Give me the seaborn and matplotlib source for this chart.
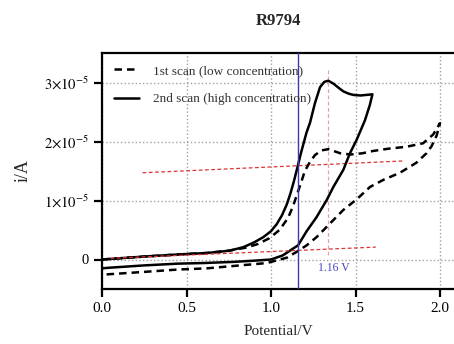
import numpy as np
import pandas as pd
import matplotlib
matplotlib.use("Agg")
import matplotlib.pyplot as plt
import seaborn as sns

# ------------------------
# Data (current in units of 1e-5 A)
# ------------------------
scan1_x = [0.0, 0.25, 0.45, 0.62, 0.75, 0.85, 0.92, 0.99, 1.05, 1.10, 1.13, 1.156, 1.18, 1.20,
           1.23, 1.26, 1.30, 1.34, 1.41, 1.47, 1.54, 1.605, 1.70, 1.80, 1.90, 1.96, 2.0,
           1.98, 1.95, 1.92, 1.86, 1.763, 1.665, 1.586, 1.507, 1.428, 1.349, 1.27, 1.211,
           1.152, 1.093, 0.975, 0.777, 0.62, 0.45, 0.25, 0.04, 0.0]
scan1_y = [0.0, 0.05, 0.085, 0.11, 0.15, 0.20, 0.26, 0.36, 0.50, 0.70, 0.90, 1.12, 1.32, 1.50,
           1.65, 1.77, 1.85, 1.87, 1.80, 1.78, 1.80, 1.84, 1.88, 1.91, 1.97, 2.12, 2.31,
           2.10, 1.92, 1.80, 1.64, 1.47, 1.35, 1.23, 1.02, 0.84, 0.61, 0.38, 0.24,
           0.13, 0.03, -0.06, -0.11, -0.15, -0.17, -0.21, -0.25, -0.26]

scan2_x = [0.0, 0.25, 0.45, 0.62, 0.757, 0.837, 0.90, 0.955, 1.0, 1.034, 1.065, 1.093, 1.115,
           1.135, 1.158, 1.175, 1.191, 1.21, 1.231, 1.26, 1.29, 1.315, 1.339, 1.37, 1.40,
           1.428, 1.46, 1.487, 1.53, 1.566, 1.60,
           1.585, 1.556, 1.507, 1.467, 1.428, 1.369, 1.33, 1.27, 1.211, 1.16, 1.112, 1.07,
           1.0, 0.9, 0.78, 0.6, 0.45, 0.25, 0.04, 0.0]
scan2_y = [0.0, 0.05, 0.085, 0.11, 0.15, 0.21, 0.29, 0.38, 0.48, 0.60, 0.75, 0.93, 1.12,
           1.32, 1.58, 1.78, 1.95, 2.15, 2.32, 2.65, 2.92, 3.01, 3.03, 2.98, 2.91,
           2.85, 2.81, 2.79, 2.78, 2.79, 2.80,
           2.62, 2.36, 2.03, 1.80, 1.52, 1.23, 1.01, 0.72, 0.48, 0.24, 0.15, 0.07,
           0.0, -0.02, -0.04, -0.06, -0.07, -0.10, -0.14, -0.15]

tangent_hi_x = [0.24, 1.78]
tangent_hi_y = [1.47, 1.67]
tangent_lo_x = [0.05, 1.62]
tangent_lo_y = [0.02, 0.21]

onset_v = 1.16
peak_v = 1.335
peak_line_y = [0.08, 3.23]

x_ticks = [0.0, 0.5, 1.0, 1.5, 2.0]
y_ticks = [0, 1, 2, 3]
y_tick_labels = ["0", r"$1{\times}10^{-5}$", r"$2{\times}10^{-5}$", r"$3{\times}10^{-5}$"]

scale = 1e-5
df1 = pd.DataFrame({"E": scan1_x, "i": np.array(scan1_y) * scale})
df2 = pd.DataFrame({"E": scan2_x, "i": np.array(scan2_y) * scale})

# ------------------------
# Plot
# ------------------------
sns.set_style("ticks")
plt.rcParams["font.family"] = ["Liberation Serif", "DejaVu Serif"]
plt.rcParams["mathtext.fontset"] = "stix"

fig = plt.figure(figsize=(4.54, 3.44), dpi=100)
ax = fig.add_axes([102 / 454, 55 / 344, 352 / 454, 236 / 344])

ax.grid(True, linestyle=":", color="#a0a0a0", linewidth=1.0)
ax.set_axisbelow(True)

ax.plot(tangent_hi_x, np.array(tangent_hi_y) * scale, color="#dd3333", ls=(0, (3, 2)), lw=0.9, zorder=3)
ax.plot(tangent_lo_x, np.array(tangent_lo_y) * scale, color="#dd3333", ls=(0, (3, 2)), lw=0.9, zorder=5)
ax.plot([peak_v, peak_v], np.array(peak_line_y) * scale, color="#d8a8a8", ls=(0, (3, 2)), lw=0.9, zorder=1)

sns.lineplot(data=df1, x="E", y="i", sort=False, estimator=None, ax=ax, color="black",
             linestyle=(0, (3, 2)), lw=1.8, label="1st scan (low concentration)", zorder=4)
sns.lineplot(data=df2, x="E", y="i", sort=False, estimator=None, ax=ax, color="black",
             lw=1.8, label="2nd scan (high concentration)", zorder=4)

ax.axvline(onset_v, color="#3a3aa8", lw=1.0, zorder=5)
ax.text(1.28, -0.15 * scale, "1.16 V", color="#4848c0", fontsize=8.5, va="center", ha="left")

ax.set_xlim(0, 352 / 169)
ax.set_ylim(-0.5 * scale, 3.5 * scale)
ax.set_xticks(x_ticks)
ax.set_xticklabels([f"{t:.1f}" for t in x_ticks])
ax.set_yticks([t * scale for t in y_ticks])
ax.set_yticklabels(y_tick_labels)
ax.tick_params(axis="both", direction="out", length=6, width=1.6, labelsize=11, colors="black")
ax.tick_params(axis="y", labelsize=10.5)

for side in ["left", "bottom", "top"]:
    ax.spines[side].set_linewidth(1.6)
    ax.spines[side].set_color("black")
ax.spines["right"].set_visible(False)

ax.set_xlabel("Potential/V", fontsize=11, labelpad=7)
ax.set_ylabel("i/A", fontsize=13, labelpad=9)
ax.set_title("R9794", fontsize=12, fontweight="bold", pad=20)

leg = ax.legend(loc="upper left", frameon=False, fontsize=9.5, handlelength=1.9,
                handletextpad=1.1, labelspacing=1.2, borderaxespad=0.5, bbox_to_anchor=(0.0, 1.0))
for t in leg.get_texts():
    t.set_color("#333333")

fig.savefig("out.png", dpi=100)
